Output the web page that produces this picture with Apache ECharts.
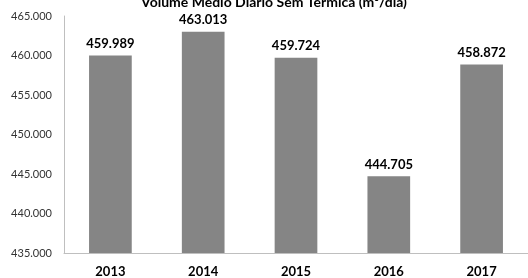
<!DOCTYPE html>
<html>
<head>
<meta charset="utf-8">
<script src="https://cdn.jsdelivr.net/npm/echarts@6/dist/echarts.min.js"></script>
<style>
  html, body { margin: 0; padding: 0; background: #fff; }
  #chart { width: 528px; height: 278px; }
</style>
</head>
<body>
<div id="chart"></div>
<script>
const years = ['2013', '2014', '2015', '2016', '2017'];
const volumes = [459989, 463013, 459724, 444705, 458872];
const chartTitle = 'Volume Médio Diário Sem Térmica (m³/dia)';

// 459989 -> "459.989"
const fmt = v => String(Math.round(v)).replace(/\B(?=(\d{3})+(?!\d))/g, '.');

const font = 'Lato';
const chart = echarts.init(document.getElementById('chart'));
chart.setOption({
  animation: false,
  title: {
    text: chartTitle,
    left: 269,
    textAlign: 'center',
    top: -10,
    textStyle: { fontFamily: font, fontSize: 14, fontWeight: 'bold', color: '#000' }
  },
  grid: { left: 64, top: 16, width: 480, height: 237 },
  xAxis: {
    type: 'category',
    data: years,
    axisLine: { lineStyle: { color: '#bfbfbf' } },
    axisTick: { show: false },
    axisLabel: { color: '#000', fontFamily: font, fontWeight: 'bold', fontSize: 13, margin: 12 }
  },
  yAxis: {
    type: 'value',
    min: 435000,
    max: 465000,
    interval: 5000,
    axisLine: { show: true, lineStyle: { color: '#bfbfbf' } },
    axisTick: { show: false },
    splitLine: { show: false },
    axisLabel: { color: '#333', fontFamily: font, fontSize: 11, margin: 12, formatter: fmt }
  },
  series: [{
    type: 'bar',
    data: volumes,
    barWidth: '46%',
    itemStyle: { color: '#858585' },
    label: {
      show: true,
      position: 'top',
      distance: 5,
      formatter: p => fmt(p.value),
      color: '#000',
      fontFamily: font,
      fontWeight: 'bold',
      fontSize: 13
    }
  }]
});
</script>
</body>
</html>
